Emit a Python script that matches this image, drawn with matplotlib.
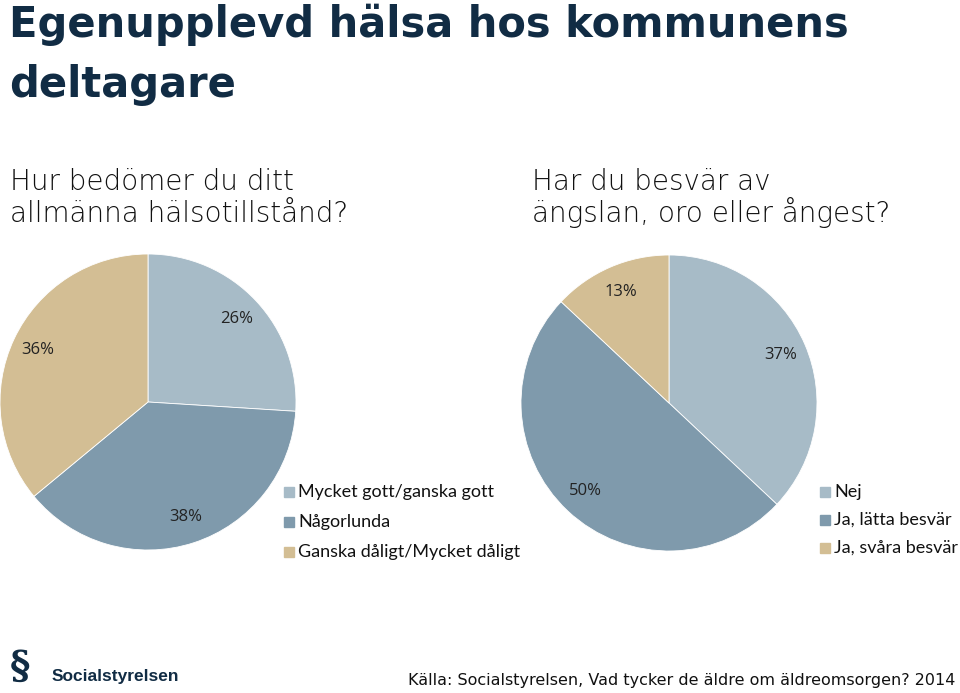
import matplotlib
matplotlib.use("Agg")
import matplotlib.pyplot as plt
from matplotlib.patches import Rectangle

# data
health_labels = ["Mycket gott/ganska gott", "Någorlunda", "Ganska dåligt/Mycket dåligt"]
health_values = [26, 38, 36]
anxiety_labels = ["Nej", "Ja, lätta besvär", "Ja, svåra besvär"]
anxiety_values = [37, 50, 13]
colors = ["#A7BBC7", "#7F9AAC", "#D3BE94"]

W, H = 960, 693
fig = plt.figure(figsize=(9.6, 6.93), dpi=100)

def fx(x):
    return x / W

def fy(y):
    return 1 - y / H

title_color = "#112C44"
# title, one line at a time
fig.text(fx(9), fy(37), "Egenupplevd hälsa hos kommunens", fontsize=30,
         fontweight="bold", family="DejaVu Sans", color=title_color, va="baseline")
fig.text(fx(9), fy(97), "deltagare", fontsize=30,
         fontweight="bold", family="DejaVu Sans", color=title_color, va="baseline")

sub_kw = dict(fontsize=20, family="DejaVu Sans", fontweight=200, color="#111111",
              va="baseline")
fig.text(fx(10), fy(190), "Hur bedömer du ditt", **sub_kw)
fig.text(fx(10), fy(222), "allmänna hälsotillstånd?", **sub_kw)
fig.text(fx(532), fy(190), "Har du besvär av", **sub_kw)
fig.text(fx(532), fy(222), "ängslan, oro eller ångest?", **sub_kw)


def draw_pie(cx, cy, r, values):
    ax = fig.add_axes([fx(cx - r), fy(cy + r), (2 * r) / W, (2 * r) / H])
    ax.pie(values, colors=colors, startangle=90, counterclock=False,
           labels=[f"{v}%" for v in values], labeldistance=0.82,
           textprops=dict(fontsize=12, family="Open Sans", color="#222222",
                          ha="center", va="center"),
           wedgeprops=dict(linewidth=0.6, edgecolor="white"))
    ax.set_xlim(-1, 1)
    ax.set_ylim(-1, 1)
    ax.set_aspect("equal")
    ax.axis("off")


draw_pie(148, 402, 148, health_values)
draw_pie(669, 403, 148, anxiety_values)


def draw_legend(x, y0, step, labels):
    for i, lab in enumerate(labels):
        y = y0 + i * step
        fig.patches.append(Rectangle((fx(x), fy(y + 5)), 10 / W, 10 / H,
                                     transform=fig.transFigure, color=colors[i]))
        fig.text(fx(x + 14), fy(y), lab, fontsize=13, family="Lato",
                 color="#111111", va="center")


draw_legend(284, 492, 30, health_labels)
draw_legend(820, 492, 28, anxiety_labels)

# footer
fig.text(fx(10), fy(668), "§", fontsize=28, family="DejaVu Serif",
         fontweight="bold", color=title_color, va="center")
fig.text(fx(52), fy(676), "Socialstyrelsen", fontsize=12.5, family="Liberation Sans",
         fontweight="bold", color=title_color, va="center")
fig.text(fx(408), fy(681), "Källa: Socialstyrelsen, Vad tycker de äldre om äldreomsorgen? 2014",
         fontsize=11.5, family="DejaVu Sans", color="#111111", va="center")

fig.savefig("out.png", dpi=100)
